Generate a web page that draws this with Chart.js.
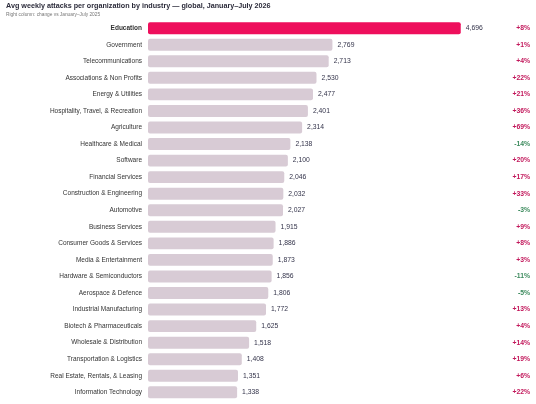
<!DOCTYPE html>
<html>
<head>
<meta charset="utf-8">
<script src="https://cdn.jsdelivr.net/npm/chart.js@4.4.1/dist/chart.umd.min.js"></script>
<style>
  html, body { margin: 0; padding: 0; background: #fff; }
  #wrap { width: 536px; height: 404px; position: relative; }
</style>
</head>
<body>
<div id="wrap"><canvas id="chart"></canvas></div>
<script>
const industries = [
  "Education", "Government", "Telecommunications", "Associations & Non Profits",
  "Energy & Utilities", "Hospitality, Travel, & Recreation", "Agriculture",
  "Healthcare & Medical", "Software", "Financial Services", "Construction & Engineering",
  "Automotive", "Business Services", "Consumer Goods & Services", "Media & Entertainment",
  "Hardware & Semiconductors", "Aerospace & Defence", "Industrial Manufacturing",
  "Biotech & Pharmaceuticals", "Wholesale & Distribution", "Transportation & Logistics",
  "Real Estate, Rentals, & Leasing", "Information Technology"
];
const weeklyAttacks = [
  4696, 2769, 2713, 2530, 2477, 2401, 2314, 2138, 2100, 2046, 2032,
  2027, 1915, 1886, 1873, 1856, 1806, 1772, 1625, 1518, 1408, 1351, 1338
];
const changeVsLastYear = [
  8, 1, 4, 22, 21, 36, 69, -14, 20, 17, 33,
  -3, 9, 8, 3, -11, -5, 13, 4, 14, 19, 6, 22
];
const highlight = "Education";

const FONT = "'Liberation Sans', Arial, sans-serif";
const barColors = industries.map(n => n === highlight ? "#ee0f5c" : "#d8cbd5");

// value labels next to bars + change column on the right
const labelPlugin = {
  id: "labels",
  afterDatasetsDraw(chart) {
    const ctx = chart.ctx;
    const meta = chart.getDatasetMeta(0);
    ctx.save();
    ctx.textBaseline = "middle";
    meta.data.forEach((bar, i) => {
      ctx.font = "6.8px " + FONT;
      ctx.fillStyle = "#33334a";
      ctx.textAlign = "left";
      ctx.fillText(weeklyAttacks[i].toLocaleString("en-US"), bar.x + 5, bar.y);

      const c = changeVsLastYear[i];
      ctx.font = "bold 6.8px " + FONT;
      ctx.fillStyle = c < 0 ? "#3d8b5e" : "#c2185b";
      ctx.textAlign = "right";
      ctx.fillText((c < 0 ? "-" : "+") + Math.abs(c) + "%", 530, bar.y);
    });
    ctx.restore();
  }
};

const myChart = new Chart(document.querySelector("#chart"), {
  type: "bar",
  data: {
    labels: industries,
    datasets: [{
      data: weeklyAttacks,
      backgroundColor: barColors,
      borderRadius: 2,
      borderSkipped: false,
      categoryPercentage: 0.8,
      barPercentage: 0.9
    }]
  },
  options: {
    indexAxis: "y",
    responsive: true,
    maintainAspectRatio: false,
    animation: false,
    layout: { padding: { left: 6, right: 55, top: 0, bottom: 3.4 } },
    scales: {
      x: {
        min: 0, max: 5000,
        display: false
      },
      y: {
        grid: { display: false, drawTicks: false },
        border: { display: false },
        afterFit: s => {
          s.width = 142;
          s.paddingTop = 0;
          s.paddingBottom = 0;
        },
        ticks: {
          padding: 6,
          color: "#333",
          font: ctx => ({
            family: FONT, size: 6.5,
            weight: industries[ctx.index] === highlight ? "bold" : "normal"
          })
        }
      }
    },
    plugins: {
      legend: { display: false },
      tooltip: { enabled: false },
      title: {
        display: true,
        text: "Avg weekly attacks per organization by industry \u2014 global, January\u2013July 2026",
        align: "start",
        color: "#2b2b3a",
        font: { family: FONT, size: 7.2, weight: "bold", lineHeight: 1.2 },
        padding: { top: 2, bottom: 1.5 }
      },
      subtitle: {
        display: true,
        text: "Right column: change vs January\u2013July 2025",
        align: "start",
        color: "#777",
        font: { family: FONT, size: 4.8, lineHeight: 1.2 },
        padding: { top: 0, bottom: 2 }
      }
    }
  },
  plugins: [labelPlugin]
});
</script>
</body>
</html>
